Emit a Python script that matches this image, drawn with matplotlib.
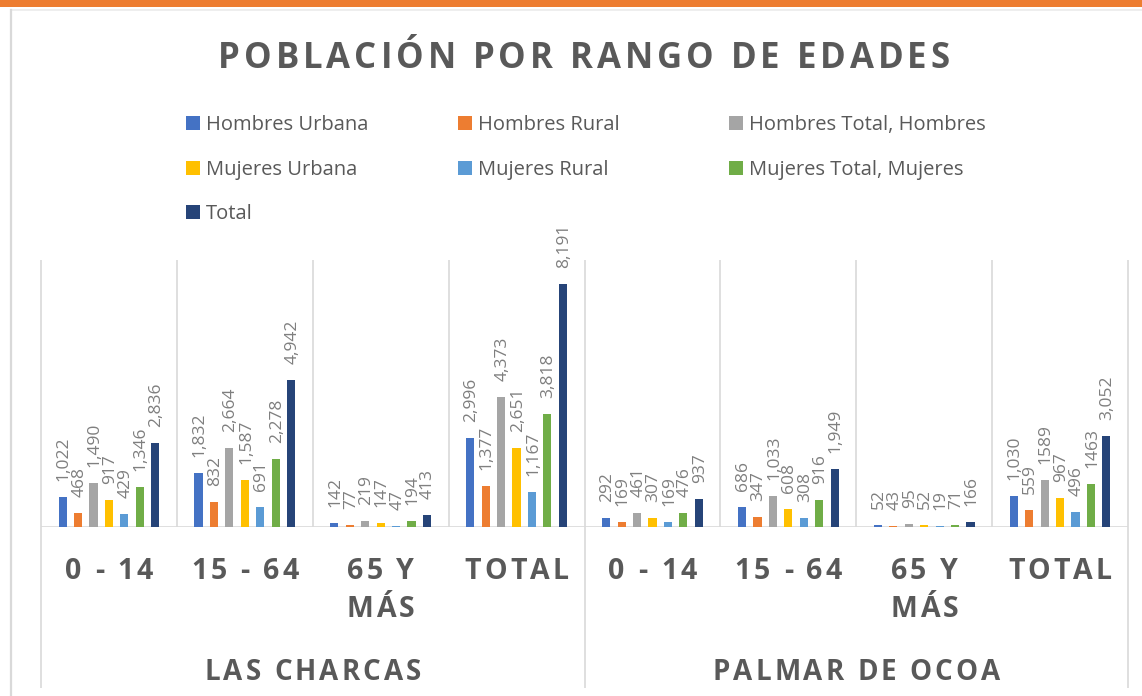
import matplotlib
matplotlib.use('Agg')
import matplotlib.pyplot as plt
import numpy as np
from matplotlib.patches import Rectangle
from matplotlib.lines import Line2D
from matplotlib.transforms import ScaledTranslation
from matplotlib.font_manager import FontProperties, findfont
from matplotlib.ft2font import FT2Font

# data
categories = ['0 - 14', '15 - 64', '65 Y\nMÁS', 'TOTAL'] * 2
groups = ['LAS CHARCAS', 'PALMAR DE OCOA']
series = ['Hombres Urbana', 'Hombres Rural', 'Hombres Total, Hombres',
          'Mujeres Urbana', 'Mujeres Rural', 'Mujeres Total, Mujeres', 'Total']
hombres_urbana = [1022, 1832, 142, 2996, 292, 686, 52, 1030]
hombres_rural = [468, 832, 77, 1377, 169, 347, 43, 559]
hombres_total = [1490, 2664, 219, 4373, 461, 1033, 95, 1589]
mujeres_urbana = [917, 1587, 147, 2651, 307, 608, 52, 967]
mujeres_rural = [429, 691, 47, 1167, 169, 308, 19, 496]
mujeres_total = [1346, 2278, 194, 3818, 476, 916, 71, 1463]
total = [2836, 4942, 413, 8191, 937, 1949, 166, 3052]
values = [hombres_urbana, hombres_rural, hombres_total,
          mujeres_urbana, mujeres_rural, mujeres_total, total]
# two labels in the source have no thousands separator
label_override = {(2, 7): '1589', (5, 7): '1463'}

colors = ['#4472C4', '#ED7D31', '#A5A5A5', '#FFC000', '#5B9BD5', '#70AD47', '#264478']
TEXT = '#595959'
LABEL = '#7F7F7F'
GRID = '#D9D9D9'

W, H = 1142, 696
fig = plt.figure(figsize=(W / 100, H / 100), dpi=100)


def fx(px):
    return px / W


def fy(py):
    return 1 - py / H


def spaced_text(x, y, s, size, gap, trans, weight='bold', color=TEXT):
    # text with extra letter spacing (gap in points), centred on x
    prop = FontProperties(family='Open Sans', weight=weight, size=size)
    font = FT2Font(findfont(prop))
    font.set_size(size, 72)
    adv = [font.load_char(ord(c)).linearHoriAdvance / 65536 for c in s]
    pos = -(sum(adv) + gap * (len(s) - 1)) / 2
    for c, a in zip(s, adv):
        off = ScaledTranslation(pos / 72, 0, fig.dpi_scale_trans)
        fig.text(x, y, c, fontproperties=prop, color=color,
                 ha='left', va='baseline', transform=trans + off)
        pos += a + gap


# orange band and chart border
fig.add_artist(Rectangle((0, fy(7)), 1, 7 / H, transform=fig.transFigure,
                         color='#ED7D31', lw=0))
fig.add_artist(Line2D([fx(11), 1], [fy(9.5), fy(9.5)], transform=fig.transFigure,
                      color='#EBEBEB', lw=1.2))
fig.add_artist(Line2D([fx(11), fx(11)], [fy(9.5), 0], transform=fig.transFigure,
                      color=GRID, lw=1.6))

# title
spaced_text(fx(584), fy(68), 'POBLACIÓN POR RANGO DE EDADES', 25, 2.85, fig.transFigure)

# legend (Excel style, fixed column grid)
for i, name in enumerate(series):
    col, row = i % 3, i // 3
    x0 = 186 + col * 271.5
    yc = 123 + row * 44.5
    fig.add_artist(Rectangle((fx(x0), fy(yc + 7)), 14 / W, 14 / H,
                             transform=fig.transFigure, color=colors[i], lw=0))
    fig.text(fx(x0 + 20), fy(yc + 2), name, family='Open Sans', fontsize=14.5,
             color=TEXT, ha='left', va='center')

# plot area
ax = fig.add_axes([fx(41), fy(527), fx(1128) - fx(41), (527 - 260) / H])
ax.set_xlim(0, 8)
ax.set_ylim(0, 9000)
ax.axis('off')

pitch = 0.1135
width = 0.06
xc = np.arange(8) + 0.5
for j, vals in enumerate(values):
    xs = xc + (j - 3) * pitch
    ax.bar(xs, vals, width, color=colors[j], zorder=3)
    for g, (x, v) in enumerate(zip(xs, vals)):
        txt = label_override.get((j, g), f'{v:,}')
        ax.annotate(txt, (x, v), xytext=(0.8, 11.5), textcoords='offset points',
                    rotation=90, ha='center', va='bottom', color=LABEL,
                    family='Open Sans', fontsize=12.5, annotation_clip=False)

# lines: baseline, inner gridlines, outer separators
ax.axhline(0, color=GRID, lw=1.2, zorder=2)
ax.vlines([1, 2, 3, 5, 6, 7], 0, 9000, color=GRID, lw=1.2, zorder=1)
ax.vlines([0, 4, 8], -0.603, 1, transform=ax.get_xaxis_transform(),
          color=GRID, lw=1.2, clip_on=False, zorder=1)

# category labels
xt = ax.get_xaxis_transform()
for x, cat in zip(xc, categories):
    for k, line in enumerate(cat.split('\n')):
        spaced_text(x, -0.195 - k * 0.142, line, 20.5, 2.2, xt)
for g, name in enumerate(groups):
    spaced_text(g * 4 + 2, -0.573, name, 20, 2.2, xt)

fig.savefig('out.png', dpi=100)
